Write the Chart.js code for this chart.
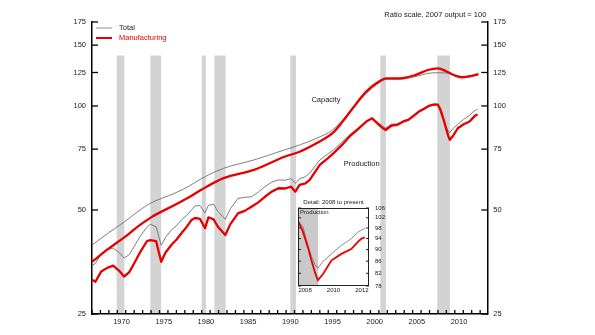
<!DOCTYPE html>
<html>
<head>
<meta charset="utf-8">
<script src="https://cdn.jsdelivr.net/npm/chart.js@4.4.1/dist/chart.umd.min.js"></script>
<style>
  html, body { margin: 0; padding: 0; background: #fff; }
  #wrap { position: relative; width: 595px; height: 335px; }
  #main { position: absolute; left: 0; top: 0; }
  #inset { position: absolute; left: 270px; top: 192px; }
</style>
</head>
<body>
<div id="wrap">
  <canvas id="main" width="595" height="335"></canvas>
  <canvas id="inset" width="130" height="110"></canvas>
</div>
<script>
// Industrial production and capacity, index 2007 = 100 (ratio scale)

// recession periods (decimal years)
const recessions = [[1969.92, 1970.83], [1973.92, 1975.2], [1980.0, 1980.5], [1981.5, 1982.83],
                    [1990.5, 1991.17], [2001.17, 2001.83], [2007.92, 2009.42]];

// production
const prodYears = [1967.0, 1967.4, 1968.1, 1968.8, 1969.5, 1970.2, 1970.8, 1971.4, 1972.1, 1972.8,
                   1973.5, 1973.9, 1974.6, 1975.2, 1975.7, 1976.4, 1977.0, 1977.6, 1978.2, 1978.8,
                   1979.2, 1979.8, 1980.4, 1980.8, 1981.4, 1981.9, 1982.8, 1983.4, 1984.3, 1985.1,
                   1985.9, 1986.7, 1987.5, 1988.3, 1989.1, 1989.9, 1990.6, 1991.1, 1991.6, 1992.3,
                   1992.8, 1994.0, 1994.9, 1995.6, 1996.6, 1997.5, 1998.5, 1999.5, 2000.2, 2000.8,
                   2001.4, 2001.8, 2002.5, 2003.2, 2003.9, 2004.5, 2005.2, 2005.7, 2006.4, 2006.9,
                   2007.5, 2008.0, 2008.35, 2008.7, 2008.95, 2009.2, 2009.4, 2009.75, 2010.35, 2011.05,
                   2011.75, 2012.2, 2012.45, 2012.7];
const totalProd = [34.6, 35.0, 37.4, 38.4, 38.8, 37.7, 36.3, 37.1, 39.6, 42.3,
                   44.5, 45.5, 44.7, 39.5, 41.6, 43.8, 45.0, 46.8, 48.2, 50.0,
                   51.4, 51.5, 49.0, 51.6, 52.0, 49.6, 47.0, 50.4, 54.0, 54.4,
                   54.6, 56.3, 58.4, 60.2, 61.1, 61.0, 61.6, 59.7, 61.6, 62.4,
                   63.9, 69.8, 72.5, 74.6, 78.5, 82.4, 86.2, 90.1, 92.1, 90.1,
                   87.5, 86.2, 88.6, 88.8, 90.5, 91.5, 94.0, 96.0, 97.8, 99.5,
                   100.5, 100.6, 98.4, 91.5, 87.6, 84.8, 83.6, 85.9, 88.5, 91.5,
                   93.9, 96.4, 97.1, 97.9];
const mfgProd   = [31.4, 31.0, 33.2, 34.0, 34.5, 33.4, 32.1, 33.0, 35.4, 38.1,
                   40.6, 40.9, 40.6, 35.4, 37.6, 39.6, 41.0, 42.8, 44.6, 46.8,
                   47.4, 47.1, 44.3, 47.6, 47.0, 44.8, 42.3, 45.5, 48.9, 49.7,
                   51.1, 52.6, 54.6, 56.5, 57.8, 57.7, 58.4, 56.5, 59.1, 59.7,
                   61.1, 67.5, 70.4, 72.9, 77.0, 81.5, 85.6, 90.1, 92.1, 89.1,
                   86.5, 85.2, 87.8, 88.2, 90.2, 91.2, 94.0, 96.2, 98.3, 100.0,
                   101.0, 100.9, 96.5, 90.8, 86.2, 82.2, 79.8, 81.7, 86.2, 88.5,
                   90.2, 92.7, 93.9, 94.5];

// capacity
const capYears = [1967.0, 1969.0, 1970.9, 1972.5, 1974.0, 1976.8, 1978.5, 1979.9, 1982.6, 1986.2,
                  1989.8, 1991.6, 1993.6, 1995.5, 1996.7, 1997.9, 1999.5, 2000.7, 2001.9, 2003.5,
                  2005.3, 2006.8, 2008.0, 2009.1, 2010.0, 2010.8, 2011.6, 2012.8];
const totalCap = [39.6, 43.0, 46.3, 49.6, 52.4, 55.9, 58.6, 61.5, 66.0, 69.8,
                  74.6, 77.1, 80.6, 85.2, 91.1, 98.5, 108.8, 115.0, 119.5, 119.5,
                  121.6, 124.3, 124.8, 124.5, 122.9, 121.8, 122.0, 124.3];
const mfgCap   = [35.4, 38.7, 41.8, 44.9, 47.6, 51.7, 54.4, 57.1, 61.8, 65.3,
                  71.3, 73.7, 78.0, 83.4, 90.1, 98.5, 110.0, 116.3, 120.2, 120.2,
                  122.9, 127.1, 128.5, 125.6, 122.5, 121.1, 121.7, 123.5];

const yTicks = [25, 50, 75, 100, 125, 150, 175];
const xLabelYears = [1970, 1975, 1980, 1985, 1990, 1995, 2000, 2005, 2010];
const insetTicks = [78, 82, 86, 90, 94, 98, 102, 106];
const insetLabelYears = [2008, 2010, 2012];

// text notes anchored in data space
const notes = [{ text: 'Capacity', x: 1993.0, y: 104 }, { text: 'Production', x: 1996.85, y: 67.9 }];

const FONT = '"Liberation Sans", Arial, Helvetica, sans-serif';
const RED = '#e60000';
const GRAY = '#707070';
const SHADE = '#d3d3d3';
const SHADE_TOP = 140;
const TXT = '#1a1a1a';

function pts(xs, ys, from) {
    let out = [];
    for (let i = 0; i < xs.length; i++) {
        if (from === undefined || xs[i] >= from) out.push({ x: xs[i], y: ys[i] });
    }
    return out;
}

function line(ctx, x0, y0, x1, y1) {
    ctx.beginPath();
    ctx.moveTo(x0, y0);
    ctx.lineTo(x1, y1);
    ctx.stroke();
}

// shading, ticks, legend and notes for the main chart
const mainDecor = {
    id: 'mainDecor',
    beforeDraw(chart) {
        const { ctx, chartArea, scales } = chart;
        const top = scales.y.getPixelForValue(SHADE_TOP);
        ctx.save();
        ctx.fillStyle = SHADE;
        recessions.forEach(r => {
            const x0 = scales.x.getPixelForValue(r[0]);
            const x1 = scales.x.getPixelForValue(r[1]);
            ctx.fillRect(x0, top, x1 - x0, chartArea.bottom - top);
        });
        ctx.restore();
    },
    afterDraw(chart) {
        const { ctx, chartArea: a, scales } = chart;
        ctx.save();
        ctx.strokeStyle = '#000';
        ctx.lineWidth = 1.3;
        yTicks.forEach(v => {
            const py = scales.y.getPixelForValue(v);
            line(ctx, a.left, py, a.left + 6, py);
            line(ctx, a.right - 6, py, a.right, py);
        });
        for (let yr = Math.ceil(scales.x.min); yr <= scales.x.max; yr++) {
            const px = scales.x.getPixelForValue(yr);
            line(ctx, px, a.bottom, px, a.bottom - 4);
        }

        // legend
        ctx.font = '7.5px ' + FONT;
        ctx.textBaseline = 'middle';
        ctx.textAlign = 'left';
        ctx.strokeStyle = '#b4b4b4';
        ctx.lineWidth = 1.5;
        line(ctx, a.left + 4, a.top + 6, a.left + 20, a.top + 6);
        ctx.fillStyle = TXT;
        ctx.fillText('Total', a.left + 27, a.top + 6);
        ctx.strokeStyle = RED;
        ctx.lineWidth = 2;
        line(ctx, a.left + 4, a.top + 16, a.left + 20, a.top + 16);
        ctx.fillStyle = RED;
        ctx.fillText('Manufacturing', a.left + 27, a.top + 16);

        // notes
        ctx.fillStyle = TXT;
        notes.forEach(n => {
            ctx.fillText(n.text, scales.x.getPixelForValue(n.x), scales.y.getPixelForValue(n.y));
        });
        ctx.textAlign = 'right';
        ctx.fillText('Ratio scale, 2007 output = 100', a.right - 1, a.top - 7);
        ctx.restore();
    }
};

const tickFont = { family: FONT, size: 7.5 };

new Chart(document.getElementById('main'), {
    type: 'line',
    data: {
        datasets: [
            { data: pts(capYears, mfgCap), borderColor: RED, borderWidth: 2.3, cubicInterpolationMode: 'monotone', order: 0 },
            { data: pts(prodYears, mfgProd), borderColor: RED, borderWidth: 2.3, order: 0 },
            { data: pts(capYears, totalCap), borderColor: GRAY, borderWidth: 0.9, cubicInterpolationMode: 'monotone', order: 1 },
            { data: pts(prodYears, totalProd), borderColor: GRAY, borderWidth: 0.9, order: 1 }
        ]
    },
    options: {
        responsive: false,
        animation: false,
        devicePixelRatio: 1,
        layout: { padding: { top: 22, left: 0, right: 0, bottom: 0 } },
        elements: { point: { radius: 0 }, line: { borderJoinStyle: 'round' } },
        plugins: { legend: { display: false }, tooltip: { enabled: false } },
        scales: {
            x: {
                type: 'linear', min: 1967, max: 2013.85,
                grid: { display: false, drawTicks: false },
                border: { color: '#000', width: 1.5 },
                afterBuildTicks: s => { s.ticks = xLabelYears.map(v => ({ value: v + 0.5 })); },
                afterFit: s => { s.height = 21; },
                ticks: { callback: v => String(Math.floor(v)), font: tickFont, color: TXT, padding: 3, maxRotation: 0, autoSkip: false }
            },
            y: {
                type: 'logarithmic', position: 'left', min: 25, max: 175,
                grid: { display: false, drawTicks: false },
                border: { color: '#000', width: 1.5 },
                afterBuildTicks: s => { s.ticks = yTicks.map(v => ({ value: v })); },
                afterFit: s => { s.width = 92; },
                ticks: { callback: v => String(v), font: tickFont, color: TXT, padding: 6 }
            },
            y2: {
                type: 'logarithmic', position: 'right', min: 25, max: 175,
                grid: { display: false, drawTicks: false },
                border: { color: '#000', width: 1.5 },
                afterBuildTicks: s => { s.ticks = yTicks.map(v => ({ value: v })); },
                afterFit: s => { s.width = 107.7; },
                ticks: { callback: v => String(v), font: tickFont, color: TXT, padding: 6 }
            }
        }
    },
    plugins: [mainDecor]
});

// inset: 2008 to present
const insetDecor = {
    id: 'insetDecor',
    beforeDraw(chart) {
        const { ctx, chartArea: a, scales } = chart;
        ctx.save();
        ctx.fillStyle = '#fff';
        ctx.fillRect(a.left, a.top, a.right - a.left, a.bottom - a.top);
        ctx.fillStyle = '#c9c9c9';
        recessions.forEach(r => {
            if (r[1] < scales.x.min) return;
            const x0 = scales.x.getPixelForValue(Math.max(r[0], scales.x.min));
            const x1 = scales.x.getPixelForValue(r[1]);
            ctx.fillRect(x0, a.top, x1 - x0, a.bottom - a.top);
        });
        ctx.restore();
    },
    afterDraw(chart) {
        const { ctx, chartArea: a, scales } = chart;
        ctx.save();
        ctx.strokeStyle = '#222';
        ctx.lineWidth = 1;
        ctx.strokeRect(a.left + 0.5, a.top + 0.5, a.right - a.left - 1, a.bottom - a.top - 1);
        insetTicks.forEach(v => {
            const py = scales.y.getPixelForValue(v);
            line(ctx, a.left, py, a.left + 3, py);
            line(ctx, a.right - 3, py, a.right, py);
        });
        ctx.font = '6px ' + FONT;
        ctx.fillStyle = TXT;
        ctx.textBaseline = 'middle';
        ctx.textAlign = 'center';
        ctx.fillText('Detail: 2008 to present', (a.left + a.right) / 2, a.top - 6);
        ctx.textAlign = 'left';
        ctx.fillText('Production', a.left + 2, a.top + 4);
        ctx.restore();
    }
};

const insetFont = { family: FONT, size: 6 };

new Chart(document.getElementById('inset'), {
    type: 'line',
    data: {
        datasets: [
            { data: pts(prodYears, mfgProd, 2008), borderColor: RED, borderWidth: 1.8, order: 0 },
            { data: pts(prodYears, totalProd, 2008), borderColor: GRAY, borderWidth: 0.8, order: 1 }
        ]
    },
    options: {
        responsive: false,
        animation: false,
        devicePixelRatio: 1,
        layout: { padding: { top: 16, left: 28, right: 2, bottom: 4 } },
        elements: { point: { radius: 0 } },
        plugins: { legend: { display: false }, tooltip: { enabled: false } },
        scales: {
            x: {
                type: 'linear', min: 2008, max: 2013,
                grid: { display: false, drawTicks: false },
                border: { display: false },
                afterBuildTicks: s => { s.ticks = insetLabelYears.map(v => ({ value: v + 0.5 })); },
                afterFit: s => { s.height = 12; },
                ticks: { callback: v => String(Math.floor(v)), font: insetFont, color: TXT, padding: 1, maxRotation: 0, autoSkip: false }
            },
            y: {
                type: 'logarithmic', position: 'right', min: 78, max: 106,
                grid: { display: false, drawTicks: false },
                border: { display: false },
                afterBuildTicks: s => { s.ticks = insetTicks.map(v => ({ value: v })); },
                afterFit: s => { s.width = 29; },
                ticks: { callback: v => String(v), font: insetFont, color: TXT, padding: 6 }
            }
        }
    },
    plugins: [insetDecor]
});
</script>
</body>
</html>
